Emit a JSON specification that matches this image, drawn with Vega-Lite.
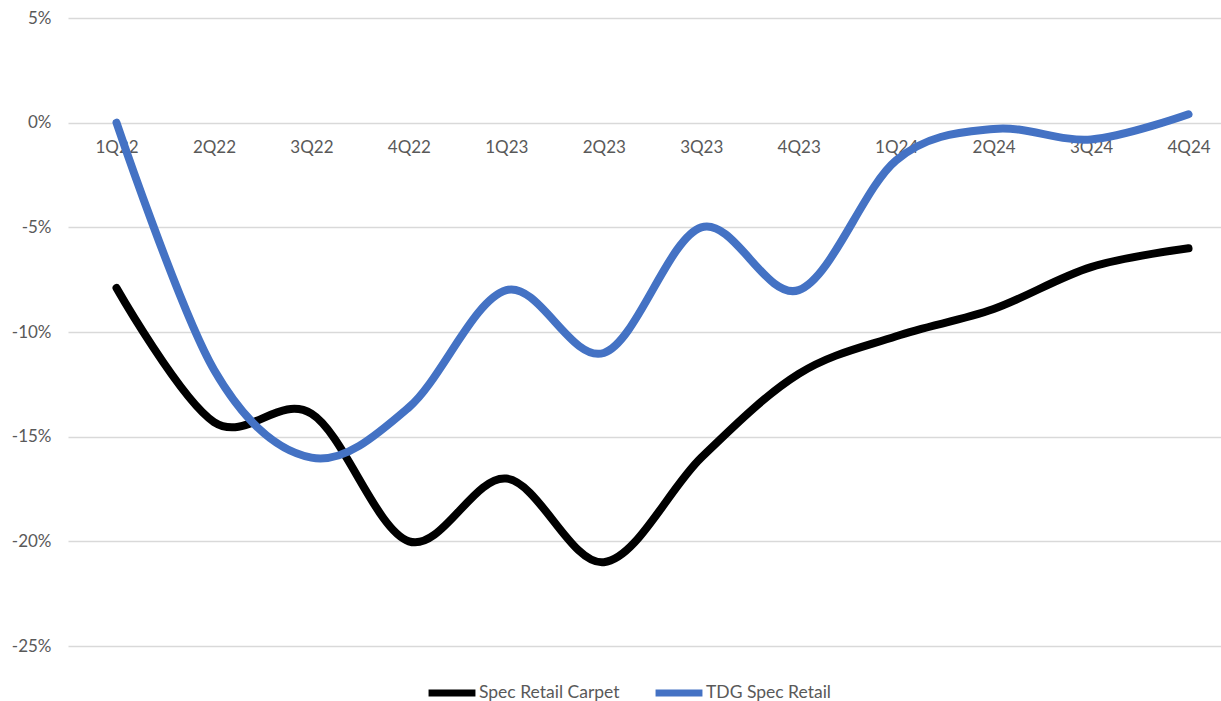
{
  "$schema": "https://vega.github.io/schema/vega-lite/v6.json",
  "width": 1153,
  "height": 628,
  "autosize": {"type": "none"},
  "padding": {"left": 68, "top": 18, "right": 0, "bottom": 55},
  "background": "white",
  "data": {
    "values": [
      {"q": "1Q22", "series": "Spec Retail Carpet", "v": -7.9},
      {"q": "2Q22", "series": "Spec Retail Carpet", "v": -14.3},
      {"q": "3Q22", "series": "Spec Retail Carpet", "v": -13.9},
      {"q": "4Q22", "series": "Spec Retail Carpet", "v": -20.0},
      {"q": "1Q23", "series": "Spec Retail Carpet", "v": -17.0},
      {"q": "2Q23", "series": "Spec Retail Carpet", "v": -21.0},
      {"q": "3Q23", "series": "Spec Retail Carpet", "v": -16.0},
      {"q": "4Q23", "series": "Spec Retail Carpet", "v": -12.0},
      {"q": "1Q24", "series": "Spec Retail Carpet", "v": -10.2},
      {"q": "2Q24", "series": "Spec Retail Carpet", "v": -8.9},
      {"q": "3Q24", "series": "Spec Retail Carpet", "v": -6.9},
      {"q": "4Q24", "series": "Spec Retail Carpet", "v": -6.0},
      {"q": "1Q22", "series": "TDG Spec Retail", "v": 0.0},
      {"q": "2Q22", "series": "TDG Spec Retail", "v": -11.8},
      {"q": "3Q22", "series": "TDG Spec Retail", "v": -16.0},
      {"q": "4Q22", "series": "TDG Spec Retail", "v": -13.6},
      {"q": "1Q23", "series": "TDG Spec Retail", "v": -8.0},
      {"q": "2Q23", "series": "TDG Spec Retail", "v": -11.0},
      {"q": "3Q23", "series": "TDG Spec Retail", "v": -5.0},
      {"q": "4Q23", "series": "TDG Spec Retail", "v": -8.0},
      {"q": "1Q24", "series": "TDG Spec Retail", "v": -1.8},
      {"q": "2Q24", "series": "TDG Spec Retail", "v": -0.3},
      {"q": "3Q24", "series": "TDG Spec Retail", "v": -0.8},
      {"q": "4Q24", "series": "TDG Spec Retail", "v": 0.4}
    ]
  },
  "mark": {"type": "line", "interpolate": "cardinal", "strokeWidth": 8, "strokeCap": "round"},
  "encoding": {
    "x": {
      "field": "q",
      "type": "ordinal",
      "sort": null,
      "scale": {"type": "point", "padding": 0.4156, "align": 0.599},
      "axis": {
        "title": null,
        "orient": "bottom",
        "offset": -523,
        "domain": false,
        "ticks": false,
        "grid": false,
        "labelAngle": 0,
        "labelPadding": 16,
        "labelFont": "Lato",
        "labelFontSize": 17,
        "labelColor": "#595959"
      }
    },
    "y": {
      "field": "v",
      "type": "quantitative",
      "scale": {"domain": [-25, 5], "nice": false, "zero": false},
      "axis": {
        "title": null,
        "values": [-25, -20, -15, -10, -5, 0, 5],
        "labelExpr": "datum.value + '%'",
        "domain": false,
        "ticks": false,
        "grid": true,
        "gridColor": "#d9d9d9",
        "gridWidth": 1.3,
        "labelPadding": 17,
        "labelFont": "Lato",
        "labelFontSize": 17,
        "labelColor": "#595959"
      }
    },
    "color": {
      "field": "series",
      "type": "nominal",
      "scale": {"domain": ["Spec Retail Carpet", "TDG Spec Retail"], "range": ["#000000", "#4472C4"]},
      "legend": {
        "title": null,
        "orient": "none",
        "direction": "horizontal",
        "legendX": 357,
        "legendY": 648,
        "symbolType": "stroke",
        "symbolSize": 2200,
        "symbolStrokeWidth": 7,
        "labelOffset": 0,
        "columnPadding": 21,
        "labelFont": "Lato",
        "labelFontSize": 17.5,
        "labelColor": "#595959"
      }
    }
  },
  "config": {"view": {"stroke": null}}
}
